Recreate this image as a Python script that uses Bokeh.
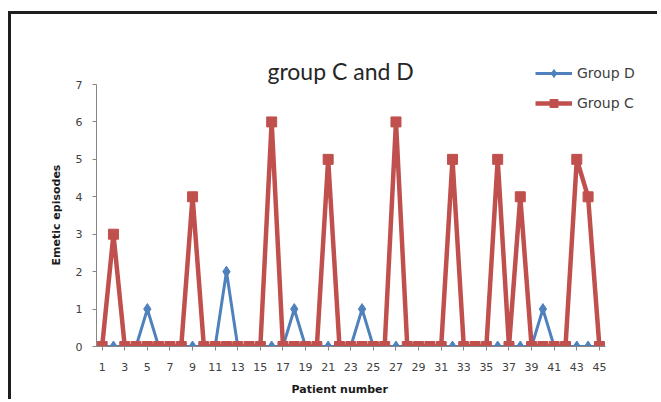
from bokeh.plotting import figure
from bokeh.models import (Range1d, FixedTicker, Legend, LegendItem, ColumnDataSource,
                          Label, Title)
from bokeh.embed import file_html
from bokeh.resources import INLINE

# ---- data ----
patients = list(range(1, 46))
group_d = [0, 0, 0, 0, 1, 0, 0, 0, 0, 0,
           0, 2, 0, 0, 0, 0, 0, 1, 0, 0,
           0, 0, 0, 1, 0, 0, 0, 0, 0, 0,
           0, 0, 0, 0, 0, 0, 0, 0, 0, 1,
           0, 0, 0, 0, 0]
group_c = [0, 3, 0, 0, 0, 0, 0, 0, 4, 0,
           0, 0, 0, 0, 0, 6, 0, 0, 0, 0,
           5, 0, 0, 0, 0, 0, 6, 0, 0, 0,
           0, 5, 0, 0, 0, 5, 0, 4, 0, 0,
           0, 0, 5, 4, 0]
x_tick_values = [1, 3, 5, 7, 9, 11, 13, 15, 17, 19, 21, 23, 25, 27, 29, 31,
                 33, 35, 37, 39, 41, 43, 45]
y_tick_values = [0, 1, 2, 3, 4, 5, 6, 7]
title_text = "group C and D"
x_title = "Patient number"
y_title = "Emetic episodes"

RED = "#C0504D"
BLUE = "#4F81BD"
AXIS_FONT = "DejaVu Sans"

src = ColumnDataSource(dict(x=patients, d=group_d, c=group_c))

# frame extends above/right of the axes so the legend (which overlaps) is not clipped
p = figure(width=649, height=388, output_backend="svg", toolbar_location=None,
           x_range=Range1d(0.5, 49.08), y_range=Range1d(0, 7.775),
           min_border_left=85, min_border_right=15, min_border_top=41,
           min_border_bottom=56)
p.styles = {"border-left": "3px solid #1e1e1e", "border-top": "3px solid #1e1e1e",
            "margin-top": "11px", "margin-left": "8px"}

p.outline_line_color = None
p.xgrid.grid_line_color = None
p.ygrid.grid_line_color = None
p.background_fill_color = "white"
p.border_fill_color = "white"

ld = p.line("x", "d", source=src, line_color=BLUE, line_width=3)
sd = p.scatter("x", "d", source=src, marker="diamond", size=11,
               fill_color=BLUE, line_color=BLUE)
lc = p.line("x", "c", source=src, line_color=RED, line_width=4.5)
sc = p.scatter("x", "c", source=src, marker="square", size=10,
               fill_color=RED, line_color=RED)

for ax in (p.xaxis[0], p.yaxis[0]):
    ax.axis_line_color = "#868686"
    ax.major_tick_line_color = "#868686"
    ax.minor_tick_line_color = None
    ax.major_tick_in = 0
    ax.major_tick_out = 4
    ax.major_label_text_font = AXIS_FONT
    ax.major_label_text_font_size = "11px"
    ax.major_label_text_color = "#404040"

p.xaxis.bounds = (0.5, 45.5)
p.yaxis.bounds = (0, 7)
p.xaxis.ticker = FixedTicker(ticks=x_tick_values)
p.yaxis.ticker = FixedTicker(ticks=y_tick_values)
p.xaxis.major_label_standoff = 12
p.yaxis.major_label_standoff = 10

# axis titles as panel titles so they can be placed like the reference
xt = Title(text=x_title, align="left", offset=195, standoff=14,
           text_font=AXIS_FONT, text_font_size="11px", text_font_style="bold",
           text_color="#1a1a1a")
p.add_layout(xt, "below")
yt = Title(text=y_title, align="left", offset=81, standoff=19,
           text_font=AXIS_FONT, text_font_size="11px", text_font_style="bold",
           text_color="#1a1a1a")
p.add_layout(yt, "left")

title = Label(x=22.1, y=7.37, text=title_text, text_align="center",
              text_baseline="middle", text_font="Lato", text_font_size="23px",
              text_color="#262626")
p.add_layout(title)

legend = Legend(items=[LegendItem(label="Group D", renderers=[ld, sd]),
                       LegendItem(label="Group C", renderers=[lc, sc])],
                location=(439, 233), orientation="vertical",
                padding=0, margin=0, spacing=10,
                glyph_width=37, glyph_height=20, label_height=20,
                label_standoff=5,
                label_text_font=AXIS_FONT, label_text_font_size="14px",
                label_text_color="#404040",
                background_fill_alpha=0, border_line_alpha=0)
p.add_layout(legend)

open("out.html", "w").write(file_html(p, INLINE))
